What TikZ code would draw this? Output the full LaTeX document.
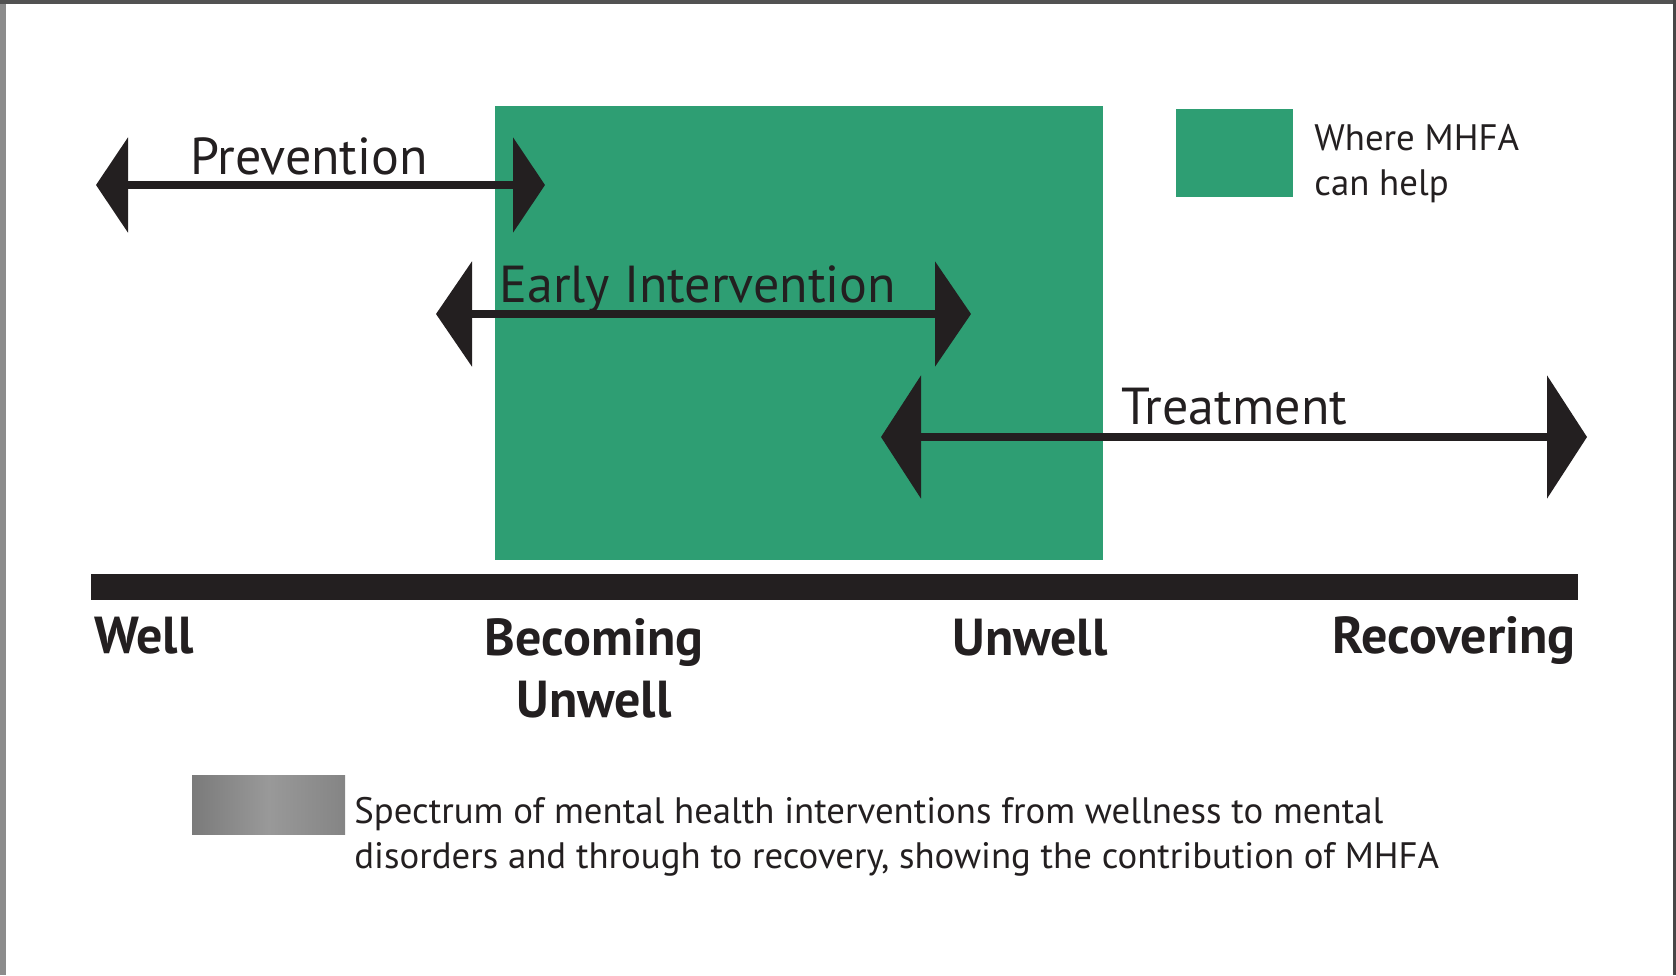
\documentclass[tikz,border=0pt]{standalone}
\usepackage{fontspec}
\setmainfont{PT Sans}
\usetikzlibrary{positioning,arrows.meta}

\definecolor{mhfagreen}{RGB}{46,158,115}
\definecolor{inkblack}{RGB}{35,31,32}

\tikzset{
  spanarrow/.style={draw=inkblack, line width=3.75pt},
  spanlabel/.style={anchor=base west, inner sep=0pt, text=inkblack, font=\fontsize{26}{30}\selectfont},
  stagelabel/.style={anchor=base west, inner sep=0pt, text=inkblack, font=\fontsize{26}{31}\selectfont\bfseries},
  keytext/.style={anchor=base west, inner sep=0pt, text=inkblack, align=left, font=\fontsize{18.4}{22.5}\selectfont}
}

\begin{document}
\begin{tikzpicture}[x=0.5pt, y=-0.5pt]
    \useasboundingbox (0,0) rectangle (1676,975);
    % frame edges
    \fill[black!45] (0,0) rectangle (6,975);
    \fill[black!68] (0,0) rectangle (1676,4);
    \fill[black!72] (1673,0) rectangle (1676,975);

    % where MHFA can help
    \fill[mhfagreen] (495,106) rectangle (1103,560);

    % spans
    \coordinate (p1) at (96,185);
    \coordinate (p2) at (545,185);
    \coordinate (e1) at (436,314);
    \coordinate (e2) at (971,314);
    \coordinate (t1) at (881,437);
    \coordinate (t2) at (1587,437);
    \draw[spanarrow, {Triangle[length=16pt, width=47pt]}-{Triangle[length=16pt, width=47pt]}] (p1) -- (p2);
    \draw[spanarrow, {Triangle[length=18pt, width=52pt]}-{Triangle[length=18pt, width=52pt]}] (e1) -- (e2);
    \draw[spanarrow, {Triangle[length=20pt, width=61pt]}-{Triangle[length=20pt, width=61pt]}] (t1) -- (t2);
    \node[spanlabel] (prev) at (190,174) {Prevention};
    \node[spanlabel] (early) at (499,302) {Early Intervention};
    \node[spanlabel] (treat) at (1121,424) {Treatment};

    % spectrum bar
    \fill[inkblack] (91,574) rectangle (1578,600);
    \node[stagelabel] (well) at (94,653) {Well};
    \node[stagelabel, anchor=base, align=center] (becoming) at (594,717) {Becoming\\Unwell};
    \node[stagelabel] (unwell) at (952,655) {Unwell};
    \node[stagelabel, anchor=base east] (recov) at (1576,653) {Recovering};

    % keys
    \fill[mhfagreen] (1176,109) rectangle (1293,197);
    \node[keytext] (helpkey) at (1314,195) {Where MHFA\\can help};
    \shade[shading=axis, shading angle=60, left color=black!52, right color=black!48, middle color=black!40] (192,775) rectangle (345,834);
    \node[keytext] (spectrumkey) at (354,868) {Spectrum of mental health interventions from wellness to mental\\disorders and through to recovery, showing the contribution of MHFA};
\end{tikzpicture}
\end{document}
